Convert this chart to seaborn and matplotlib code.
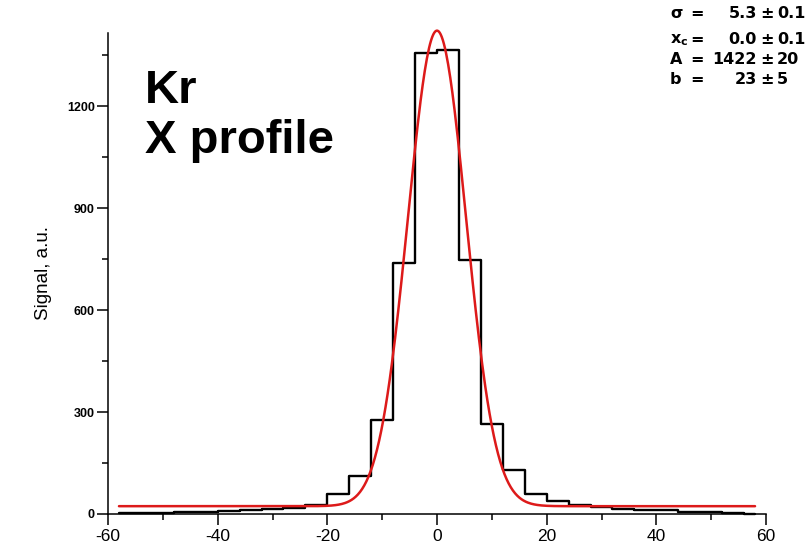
import numpy as np
import pandas as pd
import matplotlib
matplotlib.use("Agg")
import matplotlib.pyplot as plt
import seaborn as sns

# ---- data ----
bin_centers = [-58, -54, -50, -46, -42, -38, -34, -30, -26, -22, -18, -14, -10, -6, -2,
               2, 6, 10, 14, 18, 22, 26, 30, 34, 38, 42, 46, 50, 54, 58]
signal = [2, 2, 4, 5, 6, 8, 11, 16, 18, 27, 58, 112, 277, 737, 1357,
          1364, 747, 265, 128, 58, 39, 27, 20, 15, 13, 12, 6, 5, 3, 1]

# Gaussian fit parameters shown on the chart
fit_sigma = 5.3
fit_xc = 0.0
fit_A = 1422
fit_b = 23
fit_range = (-58, 58)

param_symbols = [r"$\mathbf{\sigma}$", r"$\mathbf{x_c}$", "A", "b"]
param_values = ["5.3", "0.0", "1422", "23"]
param_errors = ["0.1", "0.1", "20", "5"]

x_ticks = [-60, -40, -20, 0, 20, 40, 60]
y_ticks = [0, 300, 600, 900, 1200]

sns.set_style("ticks")
plt.rcParams["font.family"] = ["Liberation Sans", "DejaVu Sans"]
for k in ["text.color", "axes.labelcolor", "xtick.color", "ytick.color", "axes.edgecolor"]:
    plt.rcParams[k] = "black"

fig = plt.figure(figsize=(8.08, 5.49), dpi=100)
ax = fig.add_axes([108 / 808, 1 - 514 / 549, (766 - 108) / 808, (514 - 33) / 549])

df = pd.DataFrame({"x": bin_centers, "y": signal})
sns.lineplot(data=df, x="x", y="y", ax=ax, drawstyle="steps-mid",
             color="black", linewidth=1.7, clip_on=False, zorder=2)

xf = np.linspace(fit_range[0], fit_range[1], 600)
yf = fit_b + (fit_A - fit_b) * np.exp(-(xf - fit_xc) ** 2 / (2 * fit_sigma ** 2))
fit_df = pd.DataFrame({"x": xf, "y": yf})
sns.lineplot(data=fit_df, x="x", y="y", ax=ax, color="#dd1a1a",
             linewidth=1.8, clip_on=False, zorder=3)

ax.set_xlim(-60, 60)
ax.set_ylim(0, 1415)
ax.set_xticks(x_ticks)
ax.set_xticklabels([str(t) for t in x_ticks], fontsize=12.5)
ax.set_yticks(y_ticks)
ax.set_yticklabels([str(t) for t in y_ticks], fontsize=9, fontweight="bold")
ax.set_xticks(np.arange(-50, 60, 20), minor=True)
ax.set_yticks([150, 450, 750, 1050, 1350], minor=True)
ax.tick_params(axis="both", which="major", direction="out", length=8, width=1.1, color="black")
ax.tick_params(axis="both", which="minor", direction="out", length=4, width=1.1, color="black")
ax.tick_params(axis="x", pad=3)
ax.tick_params(axis="y", pad=1.5)

for s in ["top", "right"]:
    ax.spines[s].set_visible(False)
for s in ["left", "bottom"]:
    ax.spines[s].set_linewidth(1.1)
    ax.spines[s].set_color("black")

ax.set_xlabel("")
ax.set_ylabel("Signal, a.u.", fontsize=13.5, labelpad=11)

fig.text(145 / 808, 1 - 103 / 549, "Kr", fontsize=34, fontweight="bold",
         ha="left", va="baseline")
fig.text(145 / 808, 1 - 153 / 549, "X profile", fontsize=34, fontweight="bold",
         ha="left", va="baseline")

# fit parameter block
row_y = [13, 40, 60, 80]
for sym, val, err, yy in zip(param_symbols, param_values, param_errors, row_y):
    yfig = 1 - yy / 549
    kw = dict(fontsize=11.5, fontweight="bold", va="center", family=["DejaVu Sans"])
    fig.text(670 / 808, yfig, sym, ha="left", **kw)
    fig.text(690 / 808, yfig, "=", ha="left", **kw)
    fig.text(757 / 808, yfig, val, ha="right", **kw)
    fig.text(767 / 808, yfig, "\u00b1", ha="center", **kw)
    fig.text(777 / 808, yfig, err, ha="left", **kw)

fig.savefig("out.png", dpi=100)
